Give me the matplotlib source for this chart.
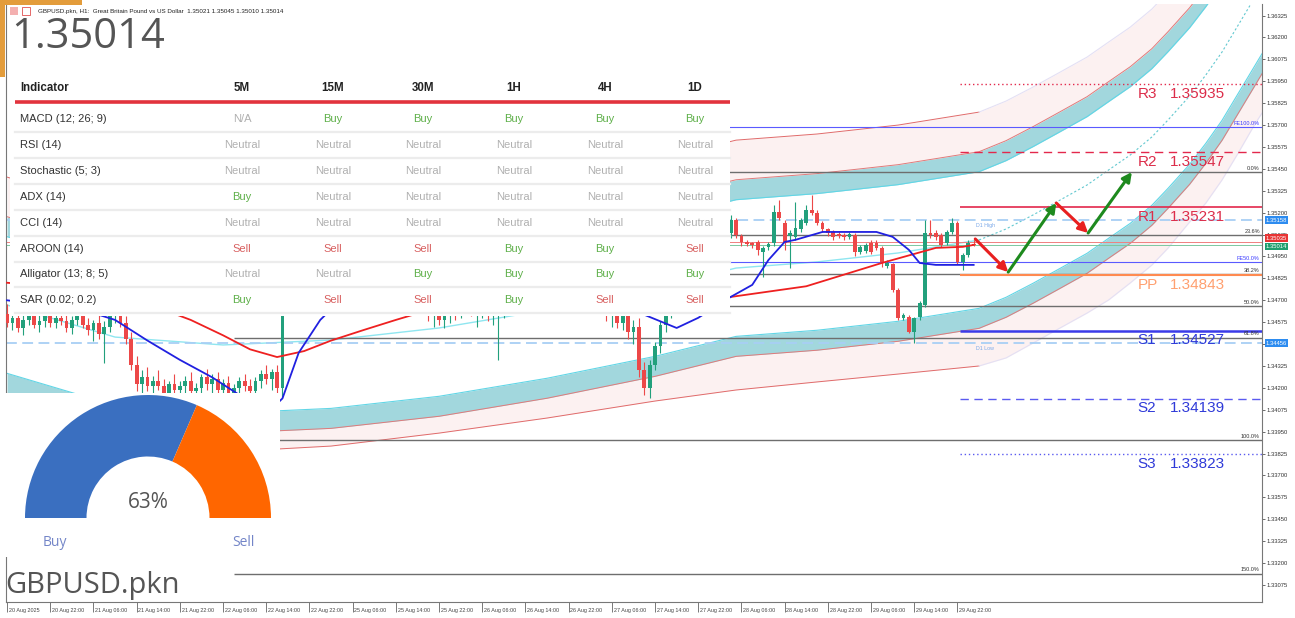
import matplotlib.pyplot as plt
from matplotlib.patches import Rectangle, Wedge
import matplotlib.transforms as mtransforms
from matplotlib.ticker import MultipleLocator, FormatStrFormatter
import numpy as np

plt.rcParams['font.family'] = ['Liberation Sans', 'DejaVu Sans']

W, H = 1295, 618

# ---------------- candles (H1, bar 0 = first bar on screen) ----------------
bars_a = list(range(0, 52))
opens_a = [1.3462, 1.3457, 1.3460, 1.3454, 1.3459, 1.3463, 1.3456, 1.3458, 1.3461, 1.3457,
           1.3460, 1.3458, 1.3454, 1.3459, 1.3462, 1.3456, 1.3453, 1.3457, 1.3451, 1.3455,
           1.3461, 1.3463, 1.3457, 1.3448, 1.3433, 1.3422, 1.3426, 1.3421, 1.3424, 1.3421,
           1.3417, 1.3422, 1.3419, 1.3421, 1.3424, 1.3418, 1.3420, 1.3426, 1.3422, 1.3425,
           1.3419, 1.3423, 1.3417, 1.3420, 1.3424, 1.3421, 1.3418, 1.3424, 1.3428, 1.3425,
           1.3429, 1.3420]
highs_a = [1.3468, 1.3463, 1.3466, 1.3462, 1.3467, 1.3468, 1.3462, 1.3464, 1.3466, 1.3463,
           1.3465, 1.3462, 1.3461, 1.3464, 1.3466, 1.3460, 1.3459, 1.3462, 1.3458, 1.3463,
           1.3466, 1.3467, 1.3461, 1.3452, 1.3438, 1.3430, 1.3432, 1.3427, 1.3430, 1.3425,
           1.3424, 1.3428, 1.3424, 1.3427, 1.3429, 1.3423, 1.3428, 1.3431, 1.3428, 1.3429,
           1.3425, 1.3427, 1.3422, 1.3426, 1.3428, 1.3425, 1.3426, 1.3430, 1.3433, 1.3431,
           1.3433, 1.3492]
lows_a = [1.3455, 1.3453, 1.3452, 1.3450, 1.3456, 1.3454, 1.3452, 1.3455, 1.3455, 1.3454,
          1.3456, 1.3452, 1.3451, 1.3456, 1.3454, 1.3450, 1.3447, 1.3448, 1.3434, 1.3452,
          1.3457, 1.3455, 1.3445, 1.3430, 1.3418, 1.3415, 1.3418, 1.3414, 1.3419, 1.3413,
          1.3413, 1.3416, 1.3412, 1.3417, 1.3416, 1.3413, 1.3417, 1.3419, 1.3417, 1.3416,
          1.3413, 1.3415, 1.3410, 1.3416, 1.3418, 1.3414, 1.3415, 1.3420, 1.3422, 1.3419,
          1.3417, 1.3415]
closes_a = [1.3457, 1.3460, 1.3454, 1.3459, 1.3463, 1.3456, 1.3458, 1.3461, 1.3457, 1.3460,
            1.3458, 1.3454, 1.3459, 1.3462, 1.3456, 1.3453, 1.3457, 1.3451, 1.3455, 1.3461,
            1.3463, 1.3457, 1.3448, 1.3433, 1.3422, 1.3426, 1.3421, 1.3424, 1.3421, 1.3417,
            1.3422, 1.3419, 1.3421, 1.3424, 1.3418, 1.3420, 1.3426, 1.3422, 1.3425, 1.3419,
            1.3423, 1.3417, 1.3420, 1.3424, 1.3421, 1.3418, 1.3424, 1.3428, 1.3425, 1.3429,
            1.3420, 1.3488]

bars_b = list(range(78, 94))
opens_b = [1.3466, 1.3461, 1.3464, 1.3459, 1.3463, 1.3466, 1.3462, 1.3468, 1.3471, 1.3463,
           1.3466, 1.3469, 1.3461, 1.3465, 1.3467, 1.3470]
highs_b = [1.3470, 1.3467, 1.3468, 1.3466, 1.3469, 1.3470, 1.3471, 1.3474, 1.3475, 1.3469,
           1.3472, 1.3474, 1.3468, 1.3470, 1.3475, 1.3478]
lows_b = [1.3458, 1.3455, 1.3456, 1.3454, 1.3457, 1.3459, 1.3460, 1.3464, 1.3461, 1.3455,
          1.3460, 1.3458, 1.3456, 1.3436, 1.3460, 1.3464]
closes_b = [1.3461, 1.3464, 1.3459, 1.3463, 1.3466, 1.3462, 1.3468, 1.3471, 1.3463, 1.3466,
            1.3469, 1.3461, 1.3465, 1.3467, 1.3470, 1.3474]

bars_c = list(range(110, 180))
opens_c = [1.3474, 1.3469, 1.3461, 1.3464, 1.3457, 1.3463, 1.3452, 1.3455, 1.3430, 1.3420,
           1.3433, 1.3444, 1.3456, 1.3465, 1.3471, 1.3475, 1.3479, 1.3485, 1.3481, 1.3488,
           1.3493, 1.3489, 1.3499, 1.3504,
           1.35084, 1.35158, 1.35067, 1.35033, 1.35027, 1.35033, 1.34976, 1.35004, 1.35027, 1.35204,
           1.35141, 1.35067, 1.35061, 1.35107, 1.35141, 1.35215, 1.35198, 1.35141, 1.35107, 1.35090,
           1.35078, 1.35073, 1.35061, 1.35073, 1.34976, 1.34981, 1.35027, 1.35027, 1.34998, 1.34896,
           1.34907, 1.34759, 1.34599, 1.34605, 1.34519, 1.34605, 1.34673, 1.35084, 1.35084, 1.35073,
           1.35027, 1.35090, 1.35141, 1.34919, 1.34958, 1.35021]
highs_c = [1.3480, 1.3474, 1.3468, 1.3469, 1.3466, 1.3467, 1.3459, 1.3460, 1.3435, 1.3436,
           1.3446, 1.3458, 1.3468, 1.3474, 1.3478, 1.3482, 1.3488, 1.3492, 1.3490, 1.3496,
           1.3500, 1.3502, 1.3508, 1.3510,
           1.35187, 1.35170, 1.35078, 1.35044, 1.35033, 1.35044, 1.35010, 1.35033, 1.35244, 1.35272,
           1.35158, 1.35101, 1.35261, 1.35170, 1.35244, 1.35301, 1.35215, 1.35153, 1.35113, 1.35101,
           1.35090, 1.35084, 1.35090, 1.35084, 1.35016, 1.35027, 1.35044, 1.35044, 1.35010, 1.34930,
           1.34913, 1.34770, 1.34627, 1.34616, 1.34605, 1.34696, 1.35158, 1.35158, 1.35101, 1.35084,
           1.35101, 1.35170, 1.35153, 1.34970, 1.35044, 1.35045]
lows_c = [1.3466, 1.3458, 1.3455, 1.3454, 1.3453, 1.3448, 1.3445, 1.3426, 1.3416, 1.3414,
          1.3430, 1.3440, 1.3452, 1.3460, 1.3466, 1.3469, 1.3474, 1.3478, 1.3476, 1.3483,
          1.3486, 1.3487, 1.3494, 1.3498,
          1.35056, 1.35056, 1.35010, 1.35010, 1.34998, 1.34958, 1.34833, 1.34987, 1.35010, 1.35158,
          1.34987, 1.34884, 1.35044, 1.35090, 1.35130, 1.35187, 1.35130, 1.35090, 1.35067, 1.35044,
          1.35056, 1.35044, 1.35050, 1.34953, 1.34965, 1.34970, 1.34965, 1.34987, 1.34890, 1.34884,
          1.34747, 1.34588, 1.34588, 1.34513, 1.34456, 1.34588, 1.34662, 1.35056, 1.35044, 1.35004,
          1.35016, 1.35078, 1.34907, 1.34873, 1.34947, 1.35010]
closes_c = [1.3469, 1.3461, 1.3464, 1.3457, 1.3463, 1.3452, 1.3455, 1.3430, 1.3420, 1.3433,
            1.3444, 1.3456, 1.3465, 1.3471, 1.3475, 1.3479, 1.3485, 1.3481, 1.3488, 1.3493,
            1.3489, 1.3499, 1.3504, 1.3508,
            1.35158, 1.35073, 1.35033, 1.35021, 1.35016, 1.34987, 1.34998, 1.35021, 1.35204, 1.35170,
            1.35027, 1.35084, 1.35113, 1.35158, 1.35215, 1.35198, 1.35141, 1.35107, 1.35084, 1.35061,
            1.35067, 1.35061, 1.35078, 1.34976, 1.35004, 1.35016, 1.34976, 1.34998, 1.34919, 1.34913,
            1.34759, 1.34599, 1.34616, 1.34519, 1.34599, 1.34685, 1.35084, 1.35073, 1.35061, 1.35016,
            1.35090, 1.35141, 1.34919, 1.34958, 1.35027, 1.35014]

# moving averages (fast blue, slow red)
blue_bars = [0, 10, 17, 20, 26, 32, 38, 43, 47, 49, 51, 54, 58, 65, 72, 82, 91, 100, 110, 117,
             124, 128, 134, 138, 141, 144, 146, 151, 161, 164, 167, 169, 172, 179]
blue_vals = [1.3470, 1.3466, 1.34617, 1.34588, 1.3447, 1.3436, 1.3426, 1.3416, 1.3410, 1.3408,
             1.3414, 1.3440, 1.34588, 1.3480, 1.3490, 1.3492, 1.3488, 1.3482, 1.3472, 1.3463,
             1.34542, 1.34600, 1.34719, 1.34788, 1.34930, 1.35033, 1.35045, 1.35090, 1.35090,
             1.35062, 1.34988, 1.34913, 1.34902, 1.34902]
red_bars = [0, 20, 34, 40, 45, 50, 55, 60, 66, 72, 82, 100, 120, 134, 148, 162, 172, 177, 179]
red_vals = [1.3480, 1.3475, 1.34588, 1.34500, 1.34420, 1.34376, 1.34410, 1.34470, 1.34530,
            1.34588, 1.3468, 1.3472, 1.3472, 1.34719, 1.3478, 1.34913, 1.34999, 1.35005, 1.35016]

# regression channel (solid up to the last bar, projected after it)
chan_bars = [0, 20, 40, 60, 80, 100, 120, 135, 150, 165, 180, 185, 190, 195, 200, 204, 208,
             212, 215, 219, 222, 225, 228, 231, 233]
chan_center = [1.34673, 1.34490, 1.34445, 1.34473, 1.34542, 1.34645, 1.34770, 1.34884, 1.34919,
               1.34970, 1.35044, 1.35107, 1.35187, 1.35272, 1.35358, 1.35444, 1.35529, 1.35632,
               1.35729, 1.35866, 1.35986, 1.36117, 1.36271, 1.36425, 1.36528]
chan_lower_outer = [1.33817, 1.33817, 1.33834, 1.33868, 1.33942, 1.34028, 1.34125, 1.34188,
                    1.34234, 1.34279, 1.34325, 1.34371, 1.34456, 1.34542, 1.34627, 1.34702,
                    1.34799, 1.34901, 1.34998, 1.35147, 1.35255, 1.35387, 1.35541, 1.35701,
                    1.35798]
band_inner = 0.0039
band_width = 0.00114
band_outer = 0.0073

# levels
pivot_names = ['R3', 'R2', 'R1', 'PP', 'S1', 'S2', 'S3']
pivot_vals = [1.35935, 1.35547, 1.35231, 1.34843, 1.34527, 1.34139, 1.33823]
fib_high, fib_low = 1.35432, 1.33903
fib_levels = [0.0, 23.6, 38.2, 50.0, 61.8, 100.0, 150.0]
fe_vals = [1.35689, 1.34919]
fe_names = ['FE100.0%', 'FE50.0%']
d1_high, d1_low = 1.35158, 1.34456
bid, ask = 1.35014, 1.35035

# forecast path
fc_bars = [179.3, 185.4, 194.3, 200.2, 208.3]
fc_prices = [1.35050, 1.34861, 1.35255, 1.35084, 1.35432]

time_labels = ['20 Aug 2025', '20 Aug 22:00', '21 Aug 06:00', '21 Aug 14:00', '21 Aug 22:00',
               '22 Aug 06:00', '22 Aug 14:00', '22 Aug 22:00', '25 Aug 06:00', '25 Aug 14:00',
               '25 Aug 22:00', '26 Aug 06:00', '26 Aug 14:00', '26 Aug 22:00', '27 Aug 06:00',
               '27 Aug 14:00', '27 Aug 22:00', '28 Aug 06:00', '28 Aug 14:00', '28 Aug 22:00',
               '29 Aug 06:00', '29 Aug 14:00', '29 Aug 22:00']
time_ticks = [8 * i for i in range(len(time_labels))]

# indicator table
indicators = ['MACD (12; 26; 9)', 'RSI (14)', 'Stochastic (5; 3)', 'ADX (14)', 'CCI (14)',
              'AROON (14)', 'Alligator (13; 8; 5)', 'SAR (0.02; 0.2)']
timeframes = ['5M', '15M', '30M', '1H', '4H', '1D']
signals = [['N/A', 'Buy', 'Buy', 'Buy', 'Buy', 'Buy'],
           ['Neutral'] * 6,
           ['Neutral'] * 6,
           ['Buy', 'Neutral', 'Neutral', 'Neutral', 'Neutral', 'Neutral'],
           ['Neutral'] * 6,
           ['Sell', 'Sell', 'Sell', 'Buy', 'Buy', 'Sell'],
           ['Neutral', 'Neutral', 'Buy', 'Buy', 'Buy', 'Buy'],
           ['Buy', 'Sell', 'Sell', 'Buy', 'Sell', 'Sell']]
buy_pct = 63

# ---------------- main chart ----------------
fig = plt.figure(figsize=(W / 100, H / 100), dpi=100)
ax = fig.add_axes([6 / W, 16 / H, 1256 / W, 598 / H])
ax.set_xlim(-0.2, 232.4)
ax.set_ylim(1.32978, 1.36391)
ax.set_facecolor('white')

# channel
cb = np.array(chan_bars)
cc = np.array(chan_center)
lo_outer = np.array(chan_lower_outer)
k = chan_bars.index(180)
up_in, up_out = cc + band_inner, cc + band_inner + band_width
lo_in, lo_out = cc - band_inner, cc - band_inner - band_width
ax.fill_between(cb, up_out, cc + band_outer, color='#fcf1f1', lw=0, zorder=1)
ax.fill_between(cb, lo_out, lo_outer, color='#fcf1f1', lw=0, zorder=1)
ax.fill_between(cb, up_in, up_out, color='#a2d7dd', lw=0, zorder=1.2)
ax.fill_between(cb, lo_out, lo_in, color='#a2d7dd', lw=0, zorder=1.2)
ax.plot(cb, up_in, color='#62d6e6', lw=0.8, zorder=1.3)
ax.plot(cb, lo_in, color='#62d6e6', lw=0.8, zorder=1.3)
ax.plot(cb, up_out, color='#e07a7a', lw=0.7, zorder=1.3)
ax.plot(cb, lo_out, color='#e07a7a', lw=0.7, zorder=1.3)
ax.plot(cb[:k + 1], (cc + band_outer)[:k + 1], color='#e06a6a', lw=0.7, zorder=1.3)
ax.plot(cb[:k + 1], lo_outer[:k + 1], color='#e06a6a', lw=0.7, zorder=1.3)
ax.plot(cb[k:], (cc + band_outer)[k:], color='#e4e0f4', lw=0.8, zorder=1.3)
ax.plot(cb[k:], lo_outer[k:], color='#e4e0f4', lw=0.8, zorder=1.3)
ax.plot(cb[:k + 1], cc[:k + 1], color='#8fe6f0', lw=1.0, zorder=1.4)
ax.plot(cb[k:], cc[k:], color='#62c8d0', lw=0.8, ls=(0, (2, 2)), zorder=1.4)

# horizontal levels
full = (-0.2, 232.4)
for lv in fib_levels:
    p = fib_high - (fib_high - fib_low) * lv / 100
    ax.hlines(p, 42, full[1], color='#6e6e6e', lw=1.0, zorder=2)
    ax.annotate(f'{lv:.1f}%', (232, p), xytext=(0, 1), textcoords='offset points',
                ha='right', va='bottom', fontsize=4, color='#333333', zorder=6)
for v, n in zip(fe_vals, fe_names):
    ax.hlines(v, 120, full[1], color='#5a5aff', lw=0.8, zorder=2)
    ax.annotate(n, (232, v), xytext=(0, 1), textcoords='offset points',
                ha='right', va='bottom', fontsize=4, color='#3a3aff', zorder=6)
ax.hlines([d1_high, d1_low], *full, color='#a8cff5', lw=1.3, ls=(0, (6, 3)), zorder=2)
ax.annotate('D1 High', (179.5, d1_high), xytext=(0, -2), textcoords='offset points',
            va='top', fontsize=3.8, color='#7aa8e8')
ax.annotate('D1 Low', (179.5, d1_low), xytext=(0, -2), textcoords='offset points',
            va='top', fontsize=3.8, color='#7aa8e8')
ax.hlines(ask, *full, color='#f08080', lw=0.7, zorder=2)
ax.hlines(bid, *full, color='#7cc8a0', lw=0.7, zorder=2)

piv_style = {'R3': ('#e3284c', (0, (1, 2)), 1.0), 'R2': ('#e3284c', (0, (6, 4)), 1.0),
             'R1': ('#e3284c', '-', 1.2), 'PP': ('#ff8a50', '-', 1.5),
             'S1': ('#3a3ae8', '-', 1.8), 'S2': ('#5a5af0', (0, (6, 4)), 1.0),
             'S3': ('#5a5af0', (0, (1, 2)), 1.0)}
piv_text = {'R': '#dc2d4a', 'P': '#ffa070', 'S': '#2f3ad8'}
for n, v in zip(pivot_names, pivot_vals):
    col, ls, lw = piv_style[n]
    ax.hlines(v, 176.5, full[1], color=col, ls=ls, lw=lw, zorder=2.2)
    tc = piv_text[n[0]]
    ax.annotate(n, (209.3, v), xytext=(0, -2), textcoords='offset points', va='top',
                fontsize=11, color=tc, zorder=6)
    ax.annotate(f'{v:.5f}', (215.4, v), xytext=(0, -2), textcoords='offset points', va='top',
                fontsize=11, color=tc, zorder=6)

# candles
bars = bars_a + bars_b + bars_c
opens = opens_a + opens_b + opens_c
highs = highs_a + highs_b + highs_c
lows = lows_a + lows_b + lows_c
closes = closes_a + closes_b + closes_c
up_col, dn_col = '#22a07c', '#ec4848'
cols = [up_col if c >= o else dn_col for o, c in zip(opens, closes)]
ax.vlines(bars, lows, highs, colors=cols, lw=0.8, zorder=3)
body_lo = [min(o, c) for o, c in zip(opens, closes)]
body_h = [max(abs(c - o), 0.00002) for o, c in zip(opens, closes)]
ax.bar(bars, body_h, bottom=body_lo, width=0.7, color=cols, lw=0, zorder=3.1)

ax.plot(red_bars, red_vals, color='#ee2020', lw=1.3, zorder=3.5)
ax.plot(blue_bars, blue_vals, color='#2020e0', lw=1.3, zorder=3.6)

# forecast arrows
for i in range(len(fc_bars) - 1):
    c = '#1e8a1e' if fc_prices[i + 1] > fc_prices[i] else '#e82020'
    ax.annotate('', xy=(fc_bars[i + 1], fc_prices[i + 1]), xytext=(fc_bars[i], fc_prices[i]),
                arrowprops=dict(arrowstyle='-|>,head_length=0.55,head_width=0.28', color=c,
                                lw=2.2, shrinkA=0, shrinkB=0), zorder=4)

# axes styling
ax.spines['top'].set_visible(False)
for s in ['left', 'right', 'bottom']:
    ax.spines[s].set_color('#777777')
    ax.spines[s].set_linewidth(0.8)
ax.yaxis.tick_right()
ax.yaxis.set_major_locator(MultipleLocator(0.00125, offset=0.00075))
ax.yaxis.set_major_formatter(FormatStrFormatter('%.5f'))
ax.tick_params(axis='y', labelsize=4.2, length=2, width=0.5, pad=1, colors='#333333')
ax.set_xticks(time_ticks)
ax.set_xticklabels(time_labels, ha='left')
ax.tick_params(axis='x', labelsize=3.9, length=7, width=0.5, pad=-2.5, colors='#444444')
off = mtransforms.ScaledTranslation(1.2 / 72, 0, fig.dpi_scale_trans)
for lab in ax.get_xticklabels():
    lab.set_transform(lab.get_transform() + off)

yx = mtransforms.blended_transform_factory(ax.transAxes, ax.transData)
for v, fc in [(d1_high, '#2d8cf0'), (ask, '#e83434'), (bid, '#1f9e6e'), (d1_low, '#2d8cf0')]:
    dy = 2.5 if v == ask else (-1 if v == bid else 0)
    ax.annotate(f'{v:.5f}', (1.003, v), xycoords=yx, xytext=(0, dy), textcoords='offset points',
                va='center', ha='left', fontsize=4.2, color='white',
                bbox=dict(boxstyle='square,pad=0.2', fc=fc, ec='none'), annotation_clip=False)

# ---------------- overlays (pixel coordinates) ----------------
ov = fig.add_axes([0, 0, 1, 1], zorder=5)
ov.set_xlim(0, W)
ov.set_ylim(H, 0)
ov.axis('off')


def box(x0, y0, x1, y1, fc='white'):
    ov.add_patch(Rectangle((x0, y0), x1 - x0, y1 - y0, fc=fc, ec='none'))


box(8, 4, 240, 72)
box(0, 0, 5, 77, '#e39c3b')
box(0, 0, 82, 5, '#e39c3b')
box(10, 7, 18, 15, '#f4b0b0')
ov.add_patch(Rectangle((22, 7), 8, 8, fc='white', ec='#e05050', lw=0.6))
ov.text(38, 11, 'GBPUSD.pkn, H1:  Great Britain Pound vs US Dollar  1.35021 1.35045 1.35010 1.35014',
        fontsize=4.5, va='center', color='#222222')
ov.text(11, 37, '1.35014', fontsize=30, va='center', color='#555555',
        family=['Open Sans', 'DejaVu Sans'])

# table
box(10, 70, 730, 316)
ov.text(20, 88, 'Indicator', fontsize=8.3, weight='bold', va='center', color='#222222')
col_x = [242, 333, 423, 514, 605, 695]
for x, t in zip(col_x, timeframes):
    ov.text(x, 88, t, fontsize=8.3, weight='bold', ha='center', va='center', color='#222222')
ov.plot([15, 730], [102, 102], color='#e2333d', lw=2.6, solid_capstyle='butt')
sig_col = {'Buy': '#5fb04a', 'Sell': '#d86060', 'Neutral': '#b0b0b0', 'N/A': '#b0b0b0'}
for i, (name, row) in enumerate(zip(indicators, signals)):
    y = 119 + 25.9 * i
    ov.text(20, y, name, fontsize=8, va='center', color='#333333')
    for x, s in zip(col_x, row):
        ov.text(x, y, s, fontsize=8, ha='center', va='center', color=sig_col[s])
    ov.plot([15, 730], [y + 13, y + 13], color='#ececec', lw=1.6)

# gauge
box(5, 393, 280, 557)
box(8, 557, 232, 601)
ov.text(5, 585, 'GBPUSD.pkn', fontsize=21, va='center', color='#555555',
        family=['Open Sans', 'DejaVu Sans'])
g = fig.add_axes([5 / W, (H - 557) / H, 275 / W, 164 / H], zorder=6)
g.set_xlim(-143, 132)
g.set_ylim(-39, 125)
g.axis('off')
split = 180 * (1 - buy_pct / 100)
g.add_patch(Wedge((0, 0), 123, split, 180, width=61.5, fc='#3a6fc0', ec='none'))
g.add_patch(Wedge((0, 0), 123, 0, split, width=61.5, fc='#ff6600', ec='none'))
g.text(0, 16, f'{buy_pct}%', fontsize=15, ha='center', va='center', color='#555555',
       family=['Open Sans', 'DejaVu Sans'])
g.text(-93, -25, 'Buy', fontsize=10, ha='center', va='center', color='#7385c8',
       family=['Open Sans', 'DejaVu Sans'])
g.text(95, -25, 'Sell', fontsize=10, ha='center', va='center', color='#7385c8',
       family=['Open Sans', 'DejaVu Sans'])

fig.savefig('out.png', dpi=100)
